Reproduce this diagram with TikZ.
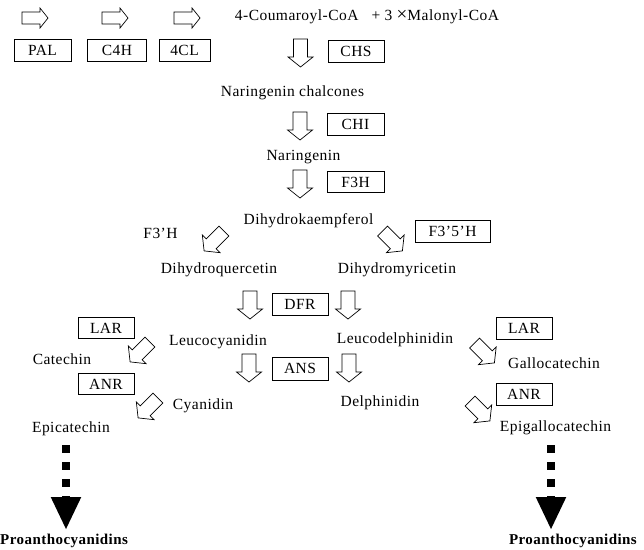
\documentclass[tikz,border=0pt]{standalone}
\usepackage{fontspec}
\setmainfont{Liberation Serif}[LetterSpace=3]
\usetikzlibrary{arrows.meta}
\begin{document}
\begin{tikzpicture}[x=1pt,y=-1pt,
  lbl/.style={font=\fontsize{15.5}{18}\selectfont, inner sep=0pt},
  enz/.style={lbl, draw, line width=0.7pt, minimum height=22pt},
  bold/.style={font=\fontsize{15}{18}\selectfont\bfseries, inner sep=0pt},
  rarrow/.pic={\draw[line width=0.7pt, fill=white] (-13,-6) -- (5,-6) -- (5,-10) -- (13,0) -- (5,10) -- (5,6) -- (-13,6) -- cycle;},
  darrow/.pic={\draw[line width=0.7pt, fill=white] (-14,-7) -- (4,-7) -- (4,-12.5) -- (14,0) -- (4,12.5) -- (4,7) -- (-14,7) -- cycle;},
  dotarrow/.style={line width=8pt, dash pattern=on 8pt off 9pt, -{Triangle[width=28pt,length=33pt]}}
]
\fill[white] (0,0) rectangle (644,549);
\useasboundingbox (0,0) rectangle (644,549);

% top row
\pic at (35,18) {rarrow};
\pic at (115,18) {rarrow};
\pic at (187,18) {rarrow};
\node[enz, minimum width=57pt] (pal) at (42.5,50.5) {PAL};
\node[enz, minimum width=59pt] (c4h) at (117,50.5) {C4H};
\node[enz, minimum width=51pt] (fcl) at (184.5,50.5) {4CL};
\node[lbl] (coum) at (367,17) {4-Coumaroyl-CoA\ \ \ + 3 {\fontsize{19}{18}\selectfont ×}Malonyl-CoA};

% main column
\pic[rotate=-90] at (300.5,53) {darrow};
\node[enz, minimum width=56pt] (chs) at (356,51.5) {CHS};
\node[lbl] (chal) at (292.5,93) {Naringenin chalcones};
\pic[rotate=-90] at (300,126) {darrow};
\node[enz, minimum width=57pt] (chi) at (355.5,124) {CHI};
\node[lbl] (nar) at (303.5,157) {Naringenin};
\pic[rotate=-90] at (300,184) {darrow};
\node[enz, minimum width=57pt, minimum height=21pt] (f3h) at (355.5,182) {F3H};
\node[lbl] (dhk) at (308.5,221) {Dihydrokaempferol};

% branch
\node[lbl] (f3h1) at (160.5,233) {F3’H};
\pic[rotate=-135] at (214,241) {darrow};
\pic[rotate=-45] at (392.5,241) {darrow};
\node[enz, minimum width=75pt] (f35h) at (452.5,231) {F3’5’H};
\node[lbl] (dhq) at (219,270) {Dihydroquercetin};
\node[lbl] (dhm) at (397,270) {Dihydromyricetin};

% DFR
\pic[rotate=-90] at (250,305) {darrow};
\node[enz, minimum width=56pt] (dfr) at (300,304) {DFR};
\pic[rotate=-90] at (348,305) {darrow};
\node[lbl] (lcy) at (218,342) {Leucocyanidin};
\node[lbl] (ldp) at (395,340) {Leucodelphinidin};

% ANS
\pic[rotate=-90] at (249,368) {darrow};
\node[enz, minimum width=56pt, minimum height=23pt] (ans) at (300,368.5) {ANS};
\pic[rotate=-90] at (349,368) {darrow};
\node[lbl] (cya) at (203,406) {Cyanidin};
\node[lbl] (del) at (380,403) {Delphinidin};

% left side
\node[enz, minimum width=56pt, minimum height=21pt] (larL) at (106,328) {LAR};
\pic[rotate=-135] at (140,352) {darrow};
\node[lbl] (cat) at (62,359) {Catechin};
\node[enz, minimum width=56pt, minimum height=21pt] (anrL) at (106,384) {ANR};
\pic[rotate=-135] at (148,408) {darrow};
\node[lbl] (epi) at (71,429) {Epicatechin};

% right side
\node[enz, minimum width=56pt] (larR) at (524,328) {LAR};
\pic[rotate=-45] at (484.5,353) {darrow};
\node[lbl] (gal) at (554,363) {Gallocatechin};
\node[enz, minimum width=56pt] (anrR) at (524,394) {ANR};
\pic[rotate=-45] at (480,411) {darrow};
\node[lbl] (egc) at (555.5,428) {Epigallocatechin};

% products
\node[bold, anchor=west] (proL) at (0,541) {Proanthocyanidins};
\node[bold, anchor=east] (proR) at (637,541) {Proanthocyanidins};
\coordinate (sL) at (66,445);
\coordinate (eL) at (66,530);
\coordinate (sR) at (551,445);
\coordinate (eR) at (551,530);
\draw[dotarrow] (sL) -- (eL);
\draw[dotarrow] (sR) -- (eR);
\end{tikzpicture}
\end{document}
